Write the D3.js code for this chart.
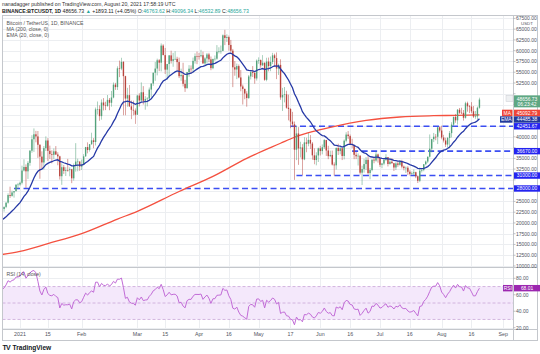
<!DOCTYPE html>
<html><head><meta charset="utf-8">
<script src="https://cdn.jsdelivr.net/npm/d3@7/dist/d3.min.js"></script>
<style>
body{margin:0;background:#fff}
svg{display:block}
text{font-family:"Liberation Sans",Arial,sans-serif}
</style>
</head><body>
<svg id="chart" width="540" height="354"></svg>
<script>
// ---------- DATA (BTC/USDT daily, Binance) ----------
// warm-up closes Dec 1 - Dec 21, 2020 (left of the visible window; used by EMA / RSI)
const warmupCloses = [18765,19205,19422,18650,19147,19359,19166,18324,18541,18254,
  18036,18808,19175,19274,19427,21335,22797,23107,23822,23455,22719];
const firstCandleDate = "2020-12-22";
const closes = [
  23811,23232,23730,24712,26493,26281,27079,27385,28876,28923,
  29331,32178,33000,31988,33949,36769,39432,40582,40088,38150,35404,34051,37371,39144,36742,35994,35828,36631,35891,35468,30850,32945,32078,32259,32254,32467,30366,33364,34252,34262,33092,
  33526,35466,37618,36936,38290,39186,38795,46374,46420,44807,47969,47287,47153,48577,47911,49133,52119,51552,55906,55841,57412,54087,48891,49676,47073,46276,46106,45135,
  49587,48440,50349,48374,48751,48882,50971,52375,54884,55851,57773,57221,61188,58968,55605,56900,58912,57648,58030,58102,57351,54083,54340,52303,51293,55025,55817,55777,57635,58746,58740,
  58720,58950,57051,58202,59129,57991,55950,58077,58142,59769,59860,59964,63575,62959,63159,61334,60006,56150,55633,56425,53787,51690,51125,50047,49004,54021,55033,54824,53555,57697,
  57828,56610,57213,53241,57473,56428,57380,58928,58280,55859,56704,49150,49716,49880,46761,46456,43538,42909,37002,40782,37304,37536,34770,38705,38402,39295,38436,35698,34617,35678,37333,
  36693,37568,39246,36829,35514,35797,33553,33380,37389,36693,37340,35551,39098,40519,40162,38349,38092,35820,35484,35600,31676,32505,33675,34663,31584,32283,34700,34494,35911,35045,
  33504,33786,34669,35287,33690,34220,33862,32875,33815,33502,34259,33086,32729,32820,31880,31383,31520,31778,30839,29790,32144,32287,33634,34258,35381,37237,39457,40019,40016,42206,41461,
  39845,39147,38207,39723,40862,42836,44614,43829,46285,45595,45555,44428,47793,47096,47019,45936,44686,44742,46763,48656.73];
const highs = [
  23837,24100,23794,24789,26867,28422,27500,27400,28996,29300,
  29600,33300,34778,33600,34360,36939,40365,41950,41380,41350,38264,36628,37850,40100,39700,37950,36852,37299,37850,36415,35600,33826,33456,32944,34875,32921,32557,33783,38531,34934,34288,
  34717,35984,37662,38708,38310,40955,39700,46794,48200,47310,48678,48985,48150,49707,49010,50650,52618,52530,56368,57700,58352,57533,54183,51374,52041,48424,48395,46600,
  49790,50127,52640,51773,49448,49200,51450,52402,54900,57387,58150,58058,61683,61500,60633,56938,58981,60000,59500,59880,58592,58402,55830,57200,53229,55074,56640,56575,58405,59368,59800,
  59490,60200,59791,58493,59473,59500,58650,58153,58894,61300,60800,61200,63774,64854,63800,63520,62500,60400,57600,57000,56800,55500,52130,51200,50591,54356,55460,56428,55200,57963,
  58458,57963,58981,57250,58360,58400,58650,59500,59300,59600,57000,58000,51367,51560,50700,49800,46645,45800,43546,42536,42250,38856,38300,39920,39800,40900,40411,38800,37338,36400,37499,
  37894,38225,39476,39289,37917,36790,36810,34068,37534,38400,37680,37438,39380,41064,41330,40527,39559,38200,36457,36139,35750,33298,34881,35298,35500,32730,34749,35297,36600,36100,
  35050,33939,34909,35967,35290,35118,35059,33929,34100,34262,34592,34650,33340,33114,33185,32249,31949,32435,31899,31039,32858,32576,33650,34500,35398,40550,39542,40900,40640,42316,42448,
  42599,40459,39780,39969,41350,43392,44700,45310,46456,46700,46743,46218,48144,48160,47372,48053,47160,46000,47033,49096.34];
const lows = [
  22350,22703,22626,23438,24500,25800,26101,25880,27320,27850,
  28624,28946,31962,28130,30221,33288,36300,36500,38720,35111,30261,32531,32380,36701,34408,34850,33850,34800,35769,33400,30071,28850,31390,30900,31910,30837,29241,29842,31915,32000,32100,
  32296,33418,35362,36161,36570,38138,37351,37988,45166,43727,43980,46125,46202,47003,46174,47003,48947,50901,50875,53863,55477,45000,45000,46988,46959,44106,45000,43000,
  45115,47047,48100,47500,46300,47070,48274,49274,51833,53005,54272,55255,55200,58966,54600,53221,54123,57023,56270,57820,55450,53650,53000,51700,50427,51200,53961,54691,54900,57000,56873,
  57930,58449,56958,56478,57000,57350,55473,55700,57654,57900,59371,59300,59869,61301,62020,60000,59580,51541,54187,53400,53600,50581,47500,48726,47000,48807,53321,53887,52330,53068,
  56956,56035,56439,53000,52900,55200,55240,56900,56235,53400,54370,48600,46000,48000,46555,43825,42001,42250,30000,34600,33488,35200,31111,34580,36419,37800,37180,34684,33632,33380,34153,
  35666,35920,37170,35555,34800,35256,33337,31000,32396,35784,35936,34600,34757,38732,39506,38116,37365,34803,34818,33336,31251,28805,31685,32286,31275,30150,32000,33862,34231,34000,
  33000,32711,33402,34357,33125,33532,33800,32077,32279,33036,33307,32660,32202,31600,31108,31020,31164,31108,30407,29278,29482,31716,32000,33400,33881,35205,36383,38772,39200,38313,41000,
  39423,38691,37642,37508,37332,39853,42446,43261,42843,45332,45341,43770,44242,45835,45500,45500,44376,44203,43955,46532.89];

// MA(200)
const ma200Dates  = ["2020-12-22","2021-01-01","2021-01-15","2021-02-01","2021-02-19","2021-03-01","2021-03-22","2021-04-08","2021-04-25","2021-05-12","2021-05-19","2021-05-28","2021-06-06","2021-06-24","2021-07-11","2021-07-28","2021-08-09","2021-08-20"];
const ma200Values = [12600,13400,15200,17500,20900,22700,27300,30800,35000,38500,39900,41200,42200,43800,44600,44900,45000,45093];

// horizontal levels drawn by the author
const levelValues = [42451.67, 36670.00, 31000.00, 28000.00];
const levelStarts = ["2021-05-17","2021-06-17","2021-05-20","2020-12-29"];

// last values shown on the scales
const lastClose = 48656.73, lastMA = 45092.79, lastEMA = 44485.38, lastRSI = 68.01;

const priceTicks = [10000,12500,15000,17500,20000,22500,25000,27500,30000,32500,35000,37500,40000,42500,45000,47500,50000,52500,55000,57500,60000,62500,65000,67500];
const timeTickDates  = ["2021-01-01","2021-01-15","2021-02-01","2021-03-01","2021-03-15","2021-04-01","2021-04-16","2021-05-01","2021-05-17","2021-06-01","2021-06-16","2021-07-01","2021-07-16","2021-08-01","2021-08-16","2021-09-01"];
const timeTickLabels = ["2021","15","Feb","Mar","15","Apr","16","May","17","Jun","16","Jul","16","Aug","16","Sep"];
const rsiTicks = [20,40,60,80];

// ---------- LAYOUT ----------
const X0 = 2.5, X1 = 513, TOP = 15.5, MAINB = 267.5, RSIB = 329.5, AXB = 340.5, RIGHT = 537.5;
const UP = "#53a27b", DOWN = "#b8443d";
const pd = d3.utcParse("%Y-%m-%d");
const x = d3.scaleUtc().domain([pd("2021-01-01"), pd("2021-09-01")]).range([20, 503.3]);
const y = d3.scaleLinear().domain([10000, 60000]).range([266, 50.7]);
const yr = d3.scaleLinear().domain([20, 80]).range([327.7, 278.3]);

const svg = d3.select("#chart");
const defs = svg.append("defs");
defs.append("clipPath").attr("id","cm").append("rect").attr("x",X0).attr("y",TOP).attr("width",X1-X0).attr("height",MAINB-TOP);
defs.append("clipPath").attr("id","cr").append("rect").attr("x",X0).attr("y",MAINB).attr("width",X1-X0).attr("height",RSIB-MAINB);

// header
const hdr = svg.append("g").attr("font-size",5.2);
hdr.append("text").attr("x",2).attr("y",6).attr("fill","#333").text("nanadagger published on TradingView.com, August 20, 2021 17:58:19 UTC");
const h2 = hdr.append("text").attr("x",2).attr("y",13).attr("fill","#222");
h2.append("tspan").attr("font-weight","bold").text("BINANCE:BTCUSDT, 1D");
h2.append("tspan").text(" 48656.73 ");
h2.append("tspan").attr("fill","#26a69a").text("▲");
h2.append("tspan").text(" +1893.11 (+4.05%) O:");
h2.append("tspan").attr("fill","#26a69a").text("46763.62");
h2.append("tspan").text(" H:");
h2.append("tspan").attr("fill","#26a69a").text("49096.34");
h2.append("tspan").text(" L:");
h2.append("tspan").attr("fill","#26a69a").text("46532.89");
h2.append("tspan").text(" C:");
h2.append("tspan").attr("fill","#26a69a").text("48656.73");

// grid
const grid = svg.append("g").attr("stroke","#eceef1").attr("stroke-width",1);
timeTickDates.forEach(d => {
  const xx = Math.round(x(pd(d))) + 0.5;
  grid.append("line").attr("x1",xx).attr("x2",xx).attr("y1",TOP).attr("y2",RSIB);
});
priceTicks.forEach(p => {
  const yy = Math.round(y(p)) + 0.5;
  if (yy > TOP && yy < MAINB) grid.append("line").attr("x1",X0).attr("x2",X1).attr("y1",yy).attr("y2",yy);
});
rsiTicks.forEach(v => {
  const yy = Math.round(yr(v)) + 0.5;
  grid.append("line").attr("x1",X0).attr("x2",X1).attr("y1",yy).attr("y2",yy);
});

// derived series
const allCloses = warmupCloses.concat(closes);
const day0 = d3.utcDay.offset(pd(firstCandleDate), -warmupCloses.length);
const allDates = allCloses.map((_, i) => d3.utcDay.offset(day0, i));
const nW = warmupCloses.length;
const candles = closes.map((c, i) => ({date: allDates[i + nW], o: allCloses[i + nW - 1], h: highs[i], l: lows[i], c}));

// EMA 20
const ema = [];
let e = d3.mean(allCloses.slice(0, 20)); ema[19] = e;
for (let i = 20; i < allCloses.length; i++) { e = e + (allCloses[i] - e) * 2 / 21; ema[i] = e; }
// RSI 14 (Wilder)
const rsi = [];
let ag = 0, al = 0;
for (let i = 1; i <= 14; i++) { const d = allCloses[i] - allCloses[i-1]; ag += Math.max(d,0); al += Math.max(-d,0); }
ag /= 14; al /= 14; rsi[14] = 100 - 100 / (1 + ag / al);
for (let i = 15; i < allCloses.length; i++) {
  const d = allCloses[i] - allCloses[i-1];
  ag = (ag * 13 + Math.max(d,0)) / 14; al = (al * 13 + Math.max(-d,0)) / 14;
  rsi[i] = 100 - 100 / (1 + ag / al);
}

// main pane
const main = svg.append("g").attr("clip-path","url(#cm)");
const lv = main.append("g").attr("stroke","#3b4ef2").attr("stroke-width",1.6).attr("stroke-dasharray","6,3.5");
levelValues.forEach((v, i) => {
  lv.append("line").attr("x1",x(pd(levelStarts[i]))).attr("x2",X1).attr("y1",y(v)).attr("y2",y(v));
});
main.append("path").datum(ma200Dates.map((d,i)=>[pd(d), ma200Values[i]]))
  .attr("fill","none").attr("stroke","#f4503f").attr("stroke-width",1.3)
  .attr("d", d3.line().x(d=>x(d[0])).y(d=>y(d[1])).curve(d3.curveMonotoneX));
const cg = main.append("g");
cg.selectAll("line.w").data(candles).join("line")
  .attr("x1", d=>x(d.date)).attr("x2", d=>x(d.date))
  .attr("y1", d=>y(d.h)).attr("y2", d=>y(d.l))
  .attr("stroke", d=>d.c>=d.o?UP:DOWN).attr("stroke-width",0.7).attr("opacity",0.75);
cg.selectAll("rect").data(candles).join("rect")
  .attr("x", d=>x(d.date)-0.7).attr("width",1.4)
  .attr("y", d=>y(Math.max(d.o,d.c)))
  .attr("height", d=>Math.max(0.6, Math.abs(y(d.o)-y(d.c))))
  .attr("fill", d=>d.c>=d.o?UP:DOWN);
const emaPts = allDates.map((d,i)=>[d, ema[i]]).filter(p=>p[1]!==undefined);
main.append("path").datum(emaPts).attr("fill","none").attr("stroke","#2639a6").attr("stroke-width",1.3)
  .attr("d", d3.line().x(d=>x(d[0])).y(d=>y(d[1])));

// legend
const lg = svg.append("g").attr("font-size",5.2).attr("fill","#555");
lg.append("text").attr("x",6.5).attr("y",25).text("Bitcoin / TetherUS, 1D, BINANCE");
lg.append("text").attr("x",6.5).attr("y",30.8).text("MA (200, close, 0)");
lg.append("text").attr("x",6.5).attr("y",36.5).text("EMA (20, close, 0)");

// RSI pane
const rp = svg.append("g").attr("clip-path","url(#cr)");
rp.append("rect").attr("x",X0).attr("width",X1-X0).attr("y",yr(70)).attr("height",yr(30)-yr(70)).attr("fill","#f4e8fb");
[70,50,30].forEach(v=>{
  rp.append("line").attr("x1",X0).attr("x2",X1).attr("y1",yr(v)).attr("y2",yr(v))
    .attr("stroke","#c9a6d8").attr("stroke-width",0.8).attr("stroke-dasharray","3,2");
});
const rsiPts = allDates.map((d,i)=>[d, rsi[i]]).filter(p=>p[1]!==undefined);
rp.append("path").datum(rsiPts).attr("fill","none").attr("stroke","#c16bd6").attr("stroke-width",1)
  .attr("d", d3.line().x(d=>x(d[0])).y(d=>yr(d[1])));
svg.append("text").attr("x",6.5).attr("y",276).attr("font-size",5.2).attr("fill","#555").text("RSI (14, close)");

// frame
const fr = svg.append("g").attr("stroke","#c4c7cc").attr("stroke-width",1).attr("fill","none");
fr.append("rect").attr("x",X0).attr("y",TOP).attr("width",RIGHT-X0).attr("height",AXB-TOP);
fr.append("line").attr("x1",X0).attr("x2",RIGHT).attr("y1",MAINB).attr("y2",MAINB);
fr.append("line").attr("x1",X0).attr("x2",RIGHT).attr("y1",RSIB).attr("y2",RSIB);
fr.append("line").attr("x1",X1+0.5).attr("x2",X1+0.5).attr("y1",TOP).attr("y2",AXB);

// scale label positions (MA / EMA pushed apart like the platform does)
const BH = 6.4;
let maY = y(lastMA), emaY = y(lastEMA);
if (emaY - maY < BH + 0.2) { const mid = (maY + emaY) / 2; maY = mid - (BH + 0.2) / 2; emaY = mid + (BH + 0.2) / 2; }
const priceBoxY = y(lastClose) + 1.8;
const occupied = [priceBoxY, maY, emaY].concat(levelValues.map(v => y(v)));

// price axis
const pa = svg.append("g").attr("font-size",5).attr("fill","#50535e");
priceTicks.forEach(p => {
  const yy = y(p);
  if (yy > TOP + 1 && yy < MAINB - 1) {
    pa.append("line").attr("x1",X1+0.5).attr("x2",X1+2.5).attr("y1",yy).attr("y2",yy).attr("stroke","#9598a1").attr("stroke-width",0.6);
    const hidden = occupied.some(o => Math.abs(o - yy) < 6.2) || (Math.abs(yy - priceBoxY) < 8.5);
    if (!hidden) pa.append("text").attr("x",516).attr("y",yy+1.8).text(d3.format(".2f")(p));
  }
});
pa.append("text").attr("x",521).attr("y",24.6).attr("font-size",4.4).text("USDT");
rsiTicks.forEach(v => {
  pa.append("line").attr("x1",X1+0.5).attr("x2",X1+2.5).attr("y1",yr(v)).attr("y2",yr(v)).attr("stroke","#9598a1").attr("stroke-width",0.6);
  pa.append("text").attr("x",516).attr("y",yr(v)+1.8).text(d3.format(".2f")(v));
});

function box(yc, txt, fill, x0 = 514, w = 26, h = BH) {
  svg.append("rect").attr("x",x0).attr("y",yc-h/2).attr("width",w).attr("height",h).attr("fill",fill);
  svg.append("text").attr("x",x0+w/2).attr("y",yc+1.8).attr("text-anchor","middle").attr("font-size",4.9).attr("fill","#fff").text(txt);
}
levelValues.forEach(v => box(y(v), d3.format(".2f")(v), "#2424f0"));
box(emaY, d3.format(".2f")(lastEMA), "#22399a");
box(emaY, "EMA", "#22399a", 500, 12.5);
box(maY, d3.format(".2f")(lastMA), "#ef4537");
box(maY, "MA", "#ef4537", 502, 10.5);
// last price (with countdown)
svg.append("rect").attr("x",506).attr("y",95.3).attr("width",7).attr("height",6.2).attr("fill","#eef0f2").attr("stroke","#c9ccd1").attr("stroke-width",0.5);
svg.append("rect").attr("x",514).attr("y",y(lastClose)-4.2).attr("width",26).attr("height",12).attr("fill","#5ea783");
svg.append("text").attr("x",527).attr("y",y(lastClose)+1.6).attr("text-anchor","middle").attr("font-size",4.9).attr("fill","#fff").text(d3.format(".2f")(lastClose));
svg.append("text").attr("x",527).attr("y",y(lastClose)+6.6).attr("text-anchor","middle").attr("font-size",4.9).attr("fill","#fff").text("06:23:42");
box(yr(lastRSI), d3.format(".2f")(lastRSI), "#9c27b0");
box(yr(lastRSI), "RSI", "#9c27b0", 503, 9.5);

// time axis
const ta = svg.append("g").attr("font-size",5.3).attr("fill","#50535e").attr("text-anchor","middle");
timeTickDates.forEach((d,i) => {
  ta.append("text").attr("x",x(pd(d))).attr("y",336.4).text(timeTickLabels[i]);
});

// logo
const logo = svg.append("g").attr("fill","#131722").attr("font-weight","bold");
logo.append("text").attr("x",2.5).attr("y",349.6).attr("font-size",7).attr("letter-spacing",-0.8).text("TV");
logo.append("text").attr("x",12.5).attr("y",349.6).attr("font-size",6.6).text("TradingView");
</script>
</body></html>
